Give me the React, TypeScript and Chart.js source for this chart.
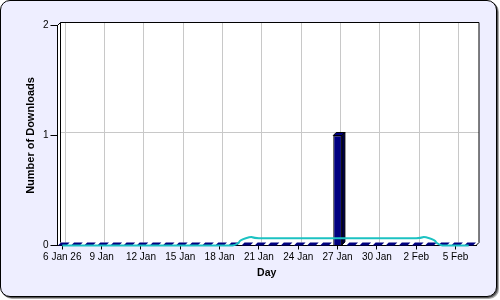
import { useEffect, useRef } from 'react';
import { Chart, registerables } from 'chart.js';

Chart.register(...registerables);

// Days from 6 Jan to 6 Feb (index 0..31)
const dayLabels = [
  '6 Jan', '7 Jan', '8 Jan', '9 Jan', '10 Jan', '11 Jan', '12 Jan', '13 Jan',
  '14 Jan', '15 Jan', '16 Jan', '17 Jan', '18 Jan', '19 Jan', '20 Jan', '21 Jan',
  '22 Jan', '23 Jan', '24 Jan', '25 Jan', '26 Jan', '27 Jan', '28 Jan', '29 Jan',
  '30 Jan', '31 Jan', '1 Feb', '2 Feb', '3 Feb', '4 Feb', '5 Feb', '6 Feb',
];

const downloads = [
  0, 0, 0, 0, 0, 0, 0, 0,
  0, 0, 0, 0, 0, 0, 0, 0,
  0, 0, 0, 0, 0, 1, 0, 0,
  0, 0, 0, 0, 0, 0, 0, 0,
];

const trend = [
  0, 0, 0, 0, 0, 0, 0, 0,
  0, 0, 0, 0, 0, 0, 0.0667, 0.0667,
  0.0667, 0.0667, 0.0667, 0.0667, 0.0667, 0.0667, 0.0667, 0.0667,
  0.0667, 0.0667, 0.0667, 0.0667, 0.0667, 0, 0, 0,
];

const xTickValues = [0, 3, 6, 9, 12, 15, 18, 21, 24, 27, 30];
const xTickLabels = ['6 Jan 26', '9 Jan', '12 Jan', '15 Jan', '18 Jan', '21 Jan', '24 Jan', '27 Jan', '30 Jan', '2 Feb', '5 Feb'];
const yTicks = [0, 1, 2];

const DEPTH = 3;

const frame3d = {
  id: 'frame3d',
  beforeDraw(chart: any) {
    const { ctx, chartArea } = chart;
    const { left, right, top, bottom } = chartArea;
    const xs = chart.scales.x;
    const ys = chart.scales.y;
    ctx.save();
    ctx.fillStyle = '#ffffff';
    ctx.beginPath();
    ctx.moveTo(left, bottom);
    ctx.lineTo(left, top);
    ctx.lineTo(left + DEPTH, top - DEPTH);
    ctx.lineTo(right + DEPTH, top - DEPTH);
    ctx.lineTo(right + DEPTH, bottom - DEPTH);
    ctx.lineTo(right, bottom);
    ctx.closePath();
    ctx.fill();
    ctx.strokeStyle = '#c8c8c8';
    ctx.lineWidth = 1;
    xTickValues.forEach((v) => {
      const px = Math.floor(xs.getPixelForValue(v) + DEPTH) + 0.5;
      ctx.beginPath();
      ctx.moveTo(px, top - DEPTH);
      ctx.lineTo(px, bottom - DEPTH);
      ctx.stroke();
    });
    yTicks.forEach((v) => {
      if (v === 0 || v === 2) return;
      const py = Math.floor(ys.getPixelForValue(v) - DEPTH) + 0.5;
      ctx.beginPath();
      ctx.moveTo(left + DEPTH, py);
      ctx.lineTo(right + DEPTH, py);
      ctx.stroke();
    });
    ctx.strokeStyle = '#000000';
    ctx.beginPath();
    ctx.moveTo(left, top);
    ctx.lineTo(left + DEPTH, top - DEPTH);
    ctx.lineTo(right + DEPTH, top - DEPTH);
    ctx.lineTo(right + DEPTH, bottom - DEPTH);
    ctx.lineTo(right, bottom);
    ctx.stroke();
    ctx.beginPath();
    ctx.moveTo(left + DEPTH, top - DEPTH);
    ctx.lineTo(left + DEPTH, bottom - DEPTH);
    ctx.stroke();
    ctx.restore();
  },
  afterDatasetDraw(chart: any, args: any) {
    if (args.index !== 0) return;
    const { ctx } = chart;
    const meta = chart.getDatasetMeta(0);
    ctx.save();
    ctx.lineWidth = 1;
    ctx.strokeStyle = '#000000';
    meta.data.forEach((bar: any) => {
      const { x, y, base, width } = bar.getProps(['x', 'y', 'base', 'width'], true);
      const x0 = x - width / 2;
      const x1 = x + width / 2;
      ctx.fillStyle = '#000080';
      ctx.beginPath();
      ctx.moveTo(x0, y);
      ctx.lineTo(x1, y);
      ctx.lineTo(x1 + DEPTH, y - DEPTH);
      ctx.lineTo(x0 + DEPTH, y - DEPTH);
      ctx.closePath();
      ctx.fill();
      if (base - y > 0.5) {
        ctx.stroke();
        ctx.fillStyle = '#000048';
        ctx.beginPath();
        ctx.moveTo(x1, y);
        ctx.lineTo(x1 + DEPTH, y - DEPTH);
        ctx.lineTo(x1 + DEPTH, base - DEPTH);
        ctx.lineTo(x1, base);
        ctx.closePath();
        ctx.fill();
        ctx.stroke();
      }
    });
    ctx.restore();
  },
};

export default function App() {
  const canvasRef = useRef<HTMLCanvasElement | null>(null);

  useEffect(() => {
    if (!canvasRef.current) return;
    Chart.defaults.font.family = "'Liberation Sans', Arial, sans-serif";
    Chart.defaults.color = '#000000';
    const chart = new Chart(canvasRef.current, {
      type: 'bar',
      data: {
        labels: dayLabels,
        datasets: [
          {
            type: 'bar',
            label: 'Downloads',
            data: downloads.map((v, i) => ({ x: i, y: v })),
            backgroundColor: '#000080',
            borderColor: '#000000',
            borderWidth: 1,
            categoryPercentage: 1,
            barPercentage: 0.66,
            order: 1,
          } as any,
          {
            type: 'line',
            label: 'Trend',
            data: trend.map((v, i) => ({ x: i, y: v })),
            borderColor: '#1cc2c2',
            borderWidth: 2,
            pointRadius: 0,
            tension: 0.8,
            fill: false,
            clip: false,
            order: 0,
          } as any,
        ],
      },
      options: {
        animation: false,
        responsive: false,
        devicePixelRatio: 1,
        layout: { padding: { top: 25.5, right: 24, bottom: 0, left: 0 } },
        plugins: { legend: { display: false }, tooltip: { enabled: false } },
        scales: {
          x: {
            type: 'linear',
            offset: false,
            min: -0.366,
            max: 31.56,
            afterBuildTicks: (s: any) => {
              s.ticks = xTickValues.map((v) => ({ value: v }));
            },
            afterFit: (s: any) => {
              s.height = 54.5;
            },
            ticks: {
              callback: (_v: any, i: number) => xTickLabels[i],
              font: { size: 10 },
              color: '#000000',
              padding: 2,
              maxRotation: 0,
              autoSkip: false,
            },
            grid: { drawOnChartArea: false, offset: false, tickLength: 4, color: '#000000' },
            border: { display: true, color: '#000000' },
            title: {
              display: true,
              text: 'Day',
              font: { size: 10.5, weight: 'bold' },
              color: '#000000',
              padding: { top: 0, bottom: 20.7 },
            },
          },
          y: {
            type: 'linear',
            min: 0,
            max: 2,
            afterBuildTicks: (s: any) => {
              s.ticks = yTicks.map((v) => ({ value: v }));
            },
            afterFit: (s: any) => {
              s.width = 57.5;
            },
            ticks: { font: { size: 10 }, color: '#000000', padding: 2 },
            grid: { drawOnChartArea: false, tickLength: 7, color: '#000000' },
            border: { display: true, color: '#000000' },
            title: {
              display: true,
              text: 'Number of Downloads',
              font: { size: 11, weight: 'bold' },
              color: '#000000',
              padding: { top: 24.4, bottom: 0 },
            },
          },
        },
      } as any,
      plugins: [frame3d],
    });
    return () => chart.destroy();
  }, []);

  return (
    <div style={{ position: 'fixed', left: 0, top: 0, width: 500, height: 300 }}>
      <div
        style={{
          position: 'absolute',
          left: 0,
          top: 0,
          width: 497,
          height: 297,
          boxSizing: 'border-box',
          border: '1px solid #000',
          borderRadius: 10,
          background: '#eeeeff',
          boxShadow: '1px 1px 0 #555, 2px 2px 0 #aaa',
        }}
      />
      <canvas
        ref={canvasRef}
        width={500}
        height={300}
        style={{ position: 'absolute', left: 0, top: 0, width: 500, height: 300, display: 'block' }}
      />
    </div>
  );
}
